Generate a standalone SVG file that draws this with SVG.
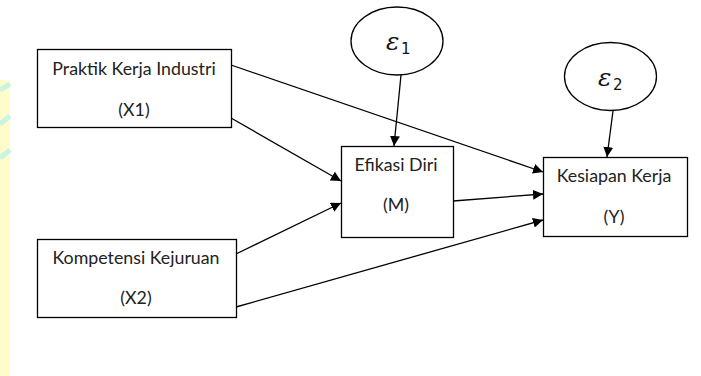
<svg xmlns="http://www.w3.org/2000/svg" width="701" height="376" viewBox="0 0 701 376">
<defs>
<marker id="arr" viewBox="0 0 10 10" refX="10" refY="5" markerWidth="10" markerHeight="10" markerUnits="userSpaceOnUse" orient="auto">
<path d="M0,0 L10,5 L0,10 z" fill="#000"/>
</marker>
</defs>
<style>
.box{fill:#fff;stroke:#000;stroke-width:1.3}
.t{font-family:Lato,"Open Sans",sans-serif;font-size:17.8px;fill:#222;text-anchor:middle}
.e{font-family:"DejaVu Serif",serif;font-style:italic;font-size:25px;fill:#111}
.s{font-family:"DejaVu Sans",sans-serif;font-size:15px;fill:#111}
.c{stroke:#000;stroke-width:1.3;fill:none;marker-end:url(#arr)}
</style>
<rect x="0" y="0" width="701" height="376" fill="#fff"/>
<g id="watermark">
<rect x="0" y="80" width="10" height="296" fill="#fffccc"/>
<path d="M0,90 L10,84 M0,124 L10,116 M0,158 L10,150" stroke="#c9f3e2" stroke-width="5"/>
</g>
<g id="connectors">
<line class="c" x1="401" y1="75" x2="394" y2="146"/>
<line class="c" x1="613" y1="111" x2="607" y2="157"/>
<line class="c" x1="231" y1="65" x2="543" y2="172"/>
<line class="c" x1="231" y1="118" x2="341" y2="181"/>
<line class="c" x1="236" y1="254" x2="341" y2="203"/>
<line class="c" x1="453" y1="201" x2="543" y2="194"/>
<line class="c" x1="236" y1="307" x2="543" y2="220"/>
</g>
<g id="X1">
<rect class="box" x="37.5" y="49.5" width="194" height="78"/>
<text class="t" x="134" y="75">Praktik Kerja Industri</text>
<text class="t" x="134" y="116">(X1)</text>
</g>
<g id="X2">
<rect class="box" x="37.5" y="239.5" width="199" height="78"/>
<text class="t" x="136" y="264">Kompetensi Kejuruan</text>
<text class="t" x="136" y="304">(X2)</text>
</g>
<g id="M">
<rect class="box" x="341.5" y="146.5" width="112" height="91"/>
<text class="t" x="396" y="171">Efikasi Diri</text>
<text class="t" x="396" y="211">(M)</text>
</g>
<g id="Y">
<rect class="box" x="543.5" y="157.5" width="144" height="79"/>
<text class="t" x="614" y="182">Kesiapan Kerja</text>
<text class="t" x="614" y="223">(Y)</text>
</g>
<g id="e1">
<ellipse class="box" cx="397" cy="41" rx="46" ry="34"/>
<text class="e" x="386" y="50">ε</text>
<text class="s" x="401" y="54">1</text>
</g>
<g id="e2">
<ellipse class="box" cx="610.5" cy="76.5" rx="46" ry="34"/>
<text class="e" x="598" y="86">ε</text>
<text class="s" x="613" y="90">2</text>
</g>
</svg>
